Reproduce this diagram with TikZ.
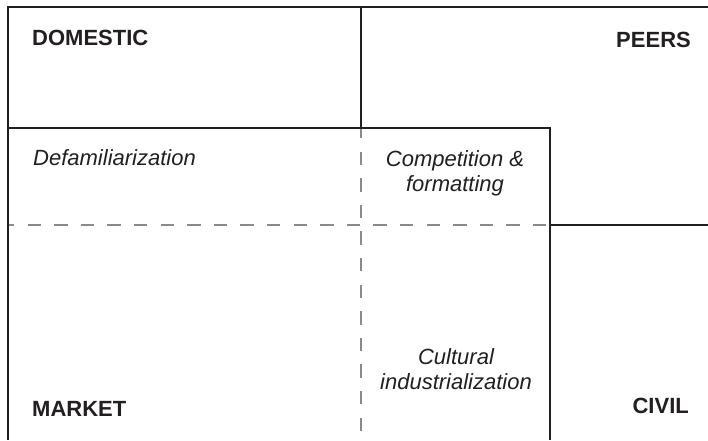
\documentclass[tikz,border=0pt]{standalone}
\usepackage{fontspec}
\setmainfont{Liberation Sans}
\definecolor{ink}{HTML}{231F20}
\definecolor{guide}{HTML}{8A8A8A}
\tikzset{
  wall/.style={draw=ink, line width=2pt},
  split/.style={draw=guide, line width=1.4pt, dash pattern=on 13.3pt off 13.3pt},
  world/.style={text=ink, inner sep=0pt, font=\fontsize{22}{25}\selectfont\bfseries},
  process/.style={text=ink, inner sep=0pt, font=\fontsize{22}{25}\selectfont\itshape},
}

\begin{document}
\begin{tikzpicture}[x=1pt, y=-1pt]
  \useasboundingbox (0,0) rectangle (708,440);
  \fill[white] (0,0) rectangle (708,440);

  % corners of the regions
  \coordinate (tl) at (8,7);
  \coordinate (tr) at (708,7);
  \coordinate (bl) at (8,440);
  \coordinate (topmid) at (361,7);
  \coordinate (mid) at (361,128);
  \coordinate (midl) at (8,128);
  \coordinate (boxr) at (550,128);
  \coordinate (boxb) at (550,440);
  \coordinate (cutl) at (8,225);
  \coordinate (cutm) at (550,225);
  \coordinate (cutr) at (708,225);
  \coordinate (midb) at (361,440);

  % dashed splits
  \draw[split, dash phase=7pt] (cutl) -- (cutm);
  \draw[split, dash phase=3pt] (mid) -- (midb);

  % solid borders
  \draw[wall] (tr) -- (tl) -- (bl);
  \draw[wall] (topmid) -- (mid);
  \draw[wall] (midl) -- (boxr) -- (boxb);
  \draw[wall] (cutm) -- (cutr);

  % worlds
  \node[world, anchor=base west] (domestic) at (32,45.7) {DOMESTIC};
  \node[world, anchor=base east] (peers) at (691,47.3) {PEERS};
  \node[world, anchor=base west] (market) at (32,416) {MARKET};
  \node[world, anchor=base east] (civil) at (689,413.3) {CIVIL};

  % processes (base = last line)
  \node[process, anchor=base west] (defam) at (33,165) {Defamiliarization};
  \node[process, anchor=base, align=center] (compet) at (455,191.7) {Competition \&\\formatting};
  \node[process, anchor=base, align=center] (cultind) at (456,389) {Cultural\\industrialization};
\end{tikzpicture}
\end{document}
